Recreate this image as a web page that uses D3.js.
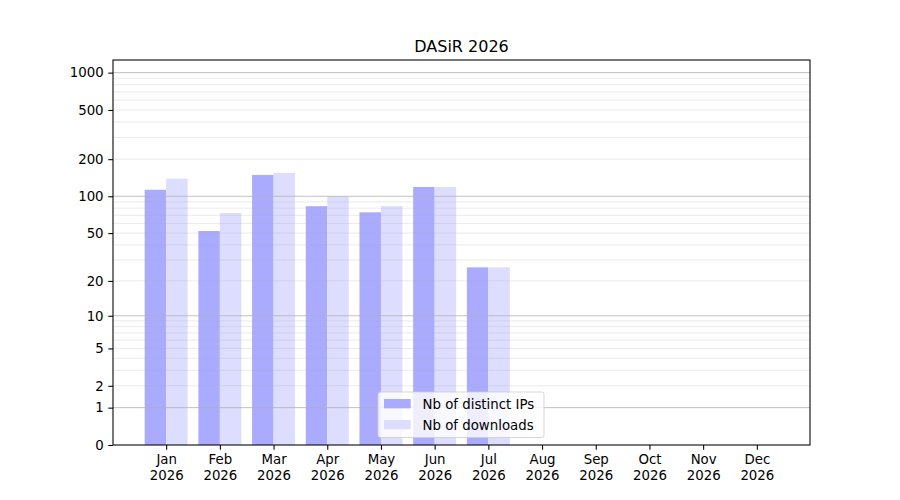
<!DOCTYPE html>
<html>
<head>
<meta charset="utf-8">
<script src="https://cdn.jsdelivr.net/npm/d3@7"></script>
<style>
  html, body { margin: 0; padding: 0; background: #fff; overflow: hidden; }
  svg { display: block; }
  svg, svg text { font-family: "DejaVu Sans", sans-serif; }
</style>
</head>
<body>
<svg width="900" height="500"></svg>
<script>
// data
const months = ['Jan', 'Feb', 'Mar', 'Apr', 'May', 'Jun', 'Jul', 'Aug', 'Sep', 'Oct', 'Nov', 'Dec'];
const year = '2026';
const distinctIPs = [113, 52, 149, 83, 74, 119, 26, 0, 0, 0, 0, 0];
const downloads = [139, 73, 155, 100, 83, 119, 26, 0, 0, 0, 0, 0];
const seriesNames = ['Nb of distinct IPs', 'Nb of downloads'];
const yTicks = [0, 1, 2, 5, 10, 20, 50, 100, 200, 500, 1000];
const majorGrid = [1, 10, 100, 1000];
const minorGrid = [2, 3, 4, 5, 6, 7, 8, 9, 20, 30, 40, 50, 60, 70, 80, 90,
                   200, 300, 400, 500, 600, 700, 800, 900];

const svg = d3.select('svg');
const width = +svg.attr('width');
const height = +svg.attr('height');
const margin = {top: 60, right: 90, bottom: 55, left: 113};
const innerWidth = width - margin.left - margin.right;
const innerHeight = height - margin.top - margin.bottom;
const colors = ['#aaaaff', '#ddddff'];
const barW = 0.4;

// x in month units, with matplotlib-like 5% margins
const x = d3.scaleLinear()
    .domain([-0.99, 11.99])
    .range([0, innerWidth]);

// log(1 + x) scale
const y = d3.scaleSymlog()
    .constant(1)
    .domain([0, 1265])
    .range([innerHeight, 0]);

const g = svg.append('g')
    .attr('transform', `translate(${margin.left}, ${margin.top})`);

// bars
const series = [distinctIPs, downloads];
series.forEach((vals, s) => {
    g.append('g').selectAll('rect').data(vals)
        .enter()
        .append('rect')
            .attr('x', (d, i) => x(i - barW + s * barW))
            .attr('width', x(barW) - x(0))
            .attr('y', d => y(d))
            .attr('height', d => innerHeight - y(d))
            .attr('fill', colors[s]);
});

// grid above bars
g.append('g').selectAll('line').data(minorGrid)
    .enter().append('line')
        .attr('x1', 0).attr('x2', innerWidth)
        .attr('y1', d => y(d)).attr('y2', d => y(d))
        .attr('stroke', '#b0b0b0').attr('stroke-opacity', 0.25)
        .attr('stroke-width', 1);
g.append('g').selectAll('line').data(majorGrid)
    .enter().append('line')
        .attr('x1', 0).attr('x2', innerWidth)
        .attr('y1', d => y(d)).attr('y2', d => y(d))
        .attr('stroke', '#b0b0b0').attr('stroke-opacity', 0.8)
        .attr('stroke-width', 1);

// axes
const yAxis = g.append('g')
    .call(d3.axisLeft(y).tickValues(yTicks).tickFormat(d3.format('d'))
        .tickSize(4.7).tickPadding(4.7));
const xAxis = g.append('g')
    .attr('transform', `translate(0, ${innerHeight})`)
    .call(d3.axisBottom(x).tickValues(d3.range(months.length))
        .tickFormat(i => months[i]).tickSize(4.7).tickPadding(4.7));
[yAxis, xAxis].forEach(a => {
    a.attr('font-family', '"DejaVu Sans", sans-serif').attr('font-size', 13.33);
    a.select('.domain').remove();
    a.selectAll('line').attr('stroke', '#000').attr('stroke-width', 1.07);
    a.selectAll('text').attr('fill', '#000');
});

// second line of the month labels
xAxis.selectAll('.tick').append('text')
    .attr('fill', '#000')
    .attr('y', 9.4 + 16)
    .attr('dy', '0.71em')
    .text(year);

// frame
g.append('rect')
    .attr('width', innerWidth).attr('height', innerHeight)
    .attr('fill', 'none').attr('stroke', '#000').attr('stroke-width', 1.07);

// title
svg.append('text')
    .attr('x', margin.left + innerWidth / 2)
    .attr('y', margin.top - 8)
    .attr('text-anchor', 'middle')
    .attr('font-size', 16)
    .text('DASiR 2026');

// legend, lower center
const legend = svg.append('g').attr('transform', 'translate(378, 392)');
legend.append('rect')
    .attr('width', 166).attr('height', 45.5)
    .attr('rx', 2.7)
    .attr('fill', '#fff').attr('fill-opacity', 0.8)
    .attr('stroke', '#cccccc').attr('stroke-opacity', 0.8);
seriesNames.forEach((name, i) => {
    const row = legend.append('g').attr('transform', `translate(6, ${12 + i * 21})`);
    row.append('rect')
        .attr('y', -5).attr('width', 26.7).attr('height', 9.3)
        .attr('fill', colors[i]);
    row.append('text')
        .attr('x', 38.5).attr('dy', '0.35em')
        .attr('font-size', 13.33)
        .text(name);
});
</script>
</body>
</html>
